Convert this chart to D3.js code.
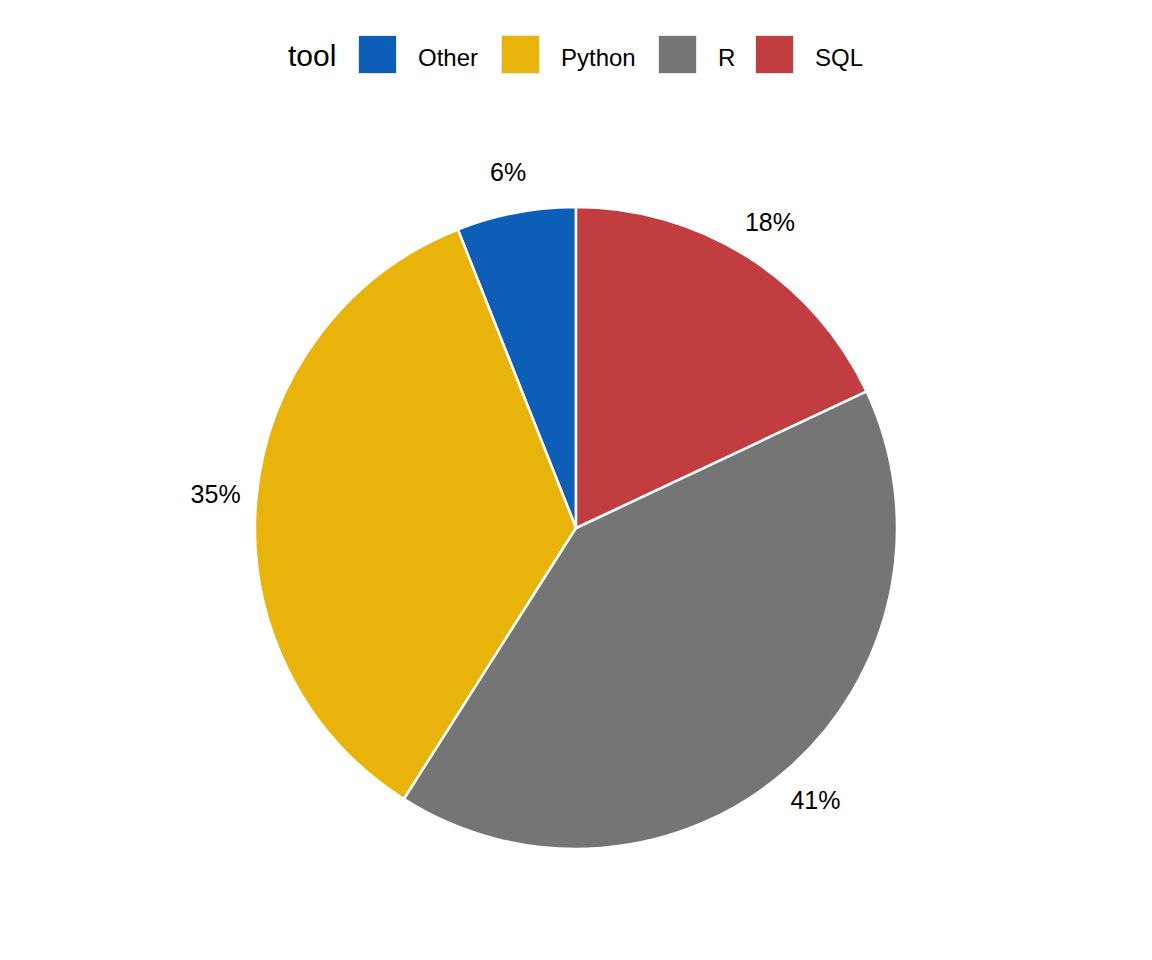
<!DOCTYPE html>
<html>
<head>
<meta charset="utf-8">
<script src="https://cdn.jsdelivr.net/npm/d3@7"></script>
<style>
  body { margin: 0; background: #fff; }
  text { font-family: Arial, "Liberation Sans", sans-serif; }
</style>
</head>
<body>
<svg id="chart" width="1152" height="960"></svg>
<script>
// Data
const tools = ["Other", "Python", "R", "SQL"];
const shares = [6, 35, 41, 18];
const colors = ["#0C5EB7", "#E8B40B", "#757575", "#C13D3F"];
// Slice order clockwise from 12 o'clock
const sliceOrder = ["SQL", "R", "Python", "Other"];

const svg = d3.select("#chart");
const width = 1152, height = 960;
const cx = 576, cy = 528, radius = 321, labelRadius = 362;

const color = d3.scaleOrdinal().domain(tools).range(colors);
const data = tools.map((t, i) => ({ tool: t, value: shares[i] }));

const pie = d3.pie()
  .value(d => d.value)
  .sort((a, b) => sliceOrder.indexOf(a.tool) - sliceOrder.indexOf(b.tool));
const arcs = pie(data);
const arc = d3.arc().innerRadius(0).outerRadius(radius);
const labelArc = d3.arc().innerRadius(labelRadius).outerRadius(labelRadius);

const g = svg.append("g").attr("transform", `translate(${cx},${cy})`);
g.selectAll("path.slice")
  .data(arcs)
  .join("path")
  .attr("class", "slice")
  .attr("d", arc)
  .attr("fill", d => color(d.data.tool))
  .attr("stroke", "#ffffff")
  .attr("stroke-width", 2.5)
  .attr("stroke-linejoin", "round");

g.selectAll("text.lbl")
  .data(arcs)
  .join("text")
  .attr("class", "lbl")
  .attr("transform", d => `translate(${labelArc.centroid(d)})`)
  .attr("text-anchor", "middle")
  .attr("dy", "0.36em")
  .attr("font-size", 25)
  .attr("fill", "#000")
  .text(d => d.data.value + "%");

// Legend
const legend = svg.append("g");
legend.append("text")
  .attr("x", 288).attr("y", 66)
  .attr("font-size", 30)
  .attr("fill", "#000")
  .text("tool");

const keyX = [358, 501, 658, 755];
const keys = legend.selectAll("g.key")
  .data(tools)
  .join("g")
  .attr("class", "key")
  .attr("transform", (d, i) => `translate(${keyX[i]},35)`);
keys.append("rect")
  .attr("x", 0.5).attr("y", 0.5)
  .attr("width", 38).attr("height", 38)
  .attr("fill", d => color(d))
  .attr("stroke", "#e8e8e8")
  .attr("stroke-width", 1);
keys.append("text")
  .attr("x", 60).attr("y", 31)
  .attr("font-size", 24)
  .attr("fill", "#000")
  .text(d => d);
</script>
</body>
</html>
